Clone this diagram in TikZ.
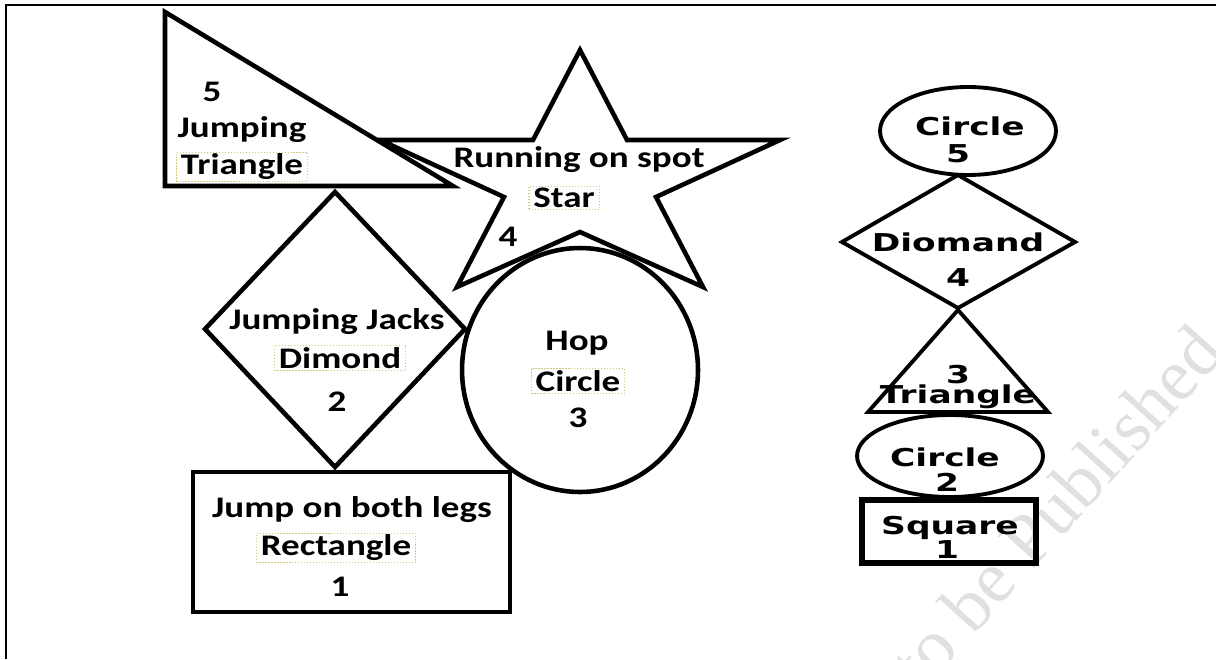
\documentclass[tikz,border=0pt]{standalone}
\usepackage{fontspec}
\newfontfamily\lblfont[FakeStretch=1.24]{Carlito}
\newfontfamily\colfont[FakeStretch=1.4]{DejaVu Sans}
\newfontfamily\wmfont{Liberation Serif}
\definecolor{tagyellow}{RGB}{212, 200, 120}
\definecolor{wmgray}{RGB}{224, 224, 224}
\usetikzlibrary{positioning}

\begin{document}
\begin{tikzpicture}[x=0.02cm, y=-0.02cm,
  shp/.style={line width=2.6pt, line join=miter},
  colshp/.style={line width=2.2pt, line join=miter},
  lbl/.style={font=\lblfont\bfseries\fontsize{17}{20}\selectfont, inner sep=0pt},
  tag/.style={lbl, draw=tagyellow, densely dotted, line width=0.7pt, inner xsep=2.5pt, inner ysep=1pt},
  collbl/.style={font=\colfont\bfseries\fontsize{14}{16}\selectfont, inner sep=0pt}]
  \useasboundingbox (0,0) rectangle (1216,659);

  % watermark
  \node[wmgray, font=\wmfont\fontsize{42}{42}\selectfont, rotate=48, anchor=base east, inner sep=0pt] (wm) at (1227,354) {Not to be Published};

  % frame
  \draw[line width=1.7pt] (6,659) -- (6,5) -- (1216,5);

  % Triangle: Jumping
  \draw[shp] (165,12) -- (165,186) -- (453,186) -- cycle;
  \node[lbl] (tri5) at (212,92) {5};
  \node[lbl] (trijump) at (242,130) {Jumping};
  \node[tag] (trinm) at (242,167) {Triangle};

  % Star: Running on spot
  \draw[shp] (580,50) -- (627,140) -- (780,140) -- (656,197) -- (703,287)
    -- (580,232) -- (457,287) -- (504,197) -- (380,140) -- (533,140) -- cycle;
  \node[lbl] (runspot) at (579,160) {Running on spot};
  \node[tag] (starnm) at (564,198) {Star};
  \node[lbl] (star4) at (508,237) {4};

  % Diamond: Jumping Jacks
  \draw[shp] (335,192) -- (465,329) -- (335,467) -- (205,329) -- cycle;
  \node[lbl] (jjacks) at (337,322) {Jumping Jacks};
  \node[tag] (dimnm) at (340,358) {Dimond};
  \node[lbl] (dim2) at (337,402) {2};

  % Circle: Hop
  \draw[shp] (580,370) ellipse [x radius=2.36cm, y radius=2.44cm];
  \node[lbl] (hop) at (577,343) {Hop};
  \node[tag] (hopnm) at (578,381) {Circle};
  \node[lbl] (hop3) at (578,418) {3};

  % Rectangle: Jump on both legs
  \draw[shp] (193,472) rectangle (510,612);
  \node[lbl] (jboth) at (352,510) {Jump on both legs};
  \node[tag] (rectnm) at (336,548) {Rectangle};
  \node[lbl] (rect1) at (340,587) {1};

  % right column, 5 down to 1
  \draw[colshp] (968,131) ellipse [x radius=1.76cm, y radius=0.88cm];
  \node[collbl] (circa) at (970,126) {Circle};
  \node[collbl] (circa5) at (958,154) {5};

  \draw[colshp] (958,175) -- (1075,242) -- (958,308) -- (842,242) -- cycle;
  \node[collbl] (diom) at (958,242) {Diomand};
  \node[collbl] (diom4) at (958,278) {4};

  \draw[colshp] (958,310) -- (1048,412) -- (868,412) -- cycle;
  \node[collbl] (trib3) at (958,375) {3};
  \node[collbl] (trib) at (958,397) {Triangle};

  \draw[colshp] (950,456) ellipse [x radius=1.86cm, y radius=0.82cm];
  \node[collbl] (circb) at (945,457) {Circle};
  \node[collbl] (circb2) at (947,482) {2};

  \draw[line width=3pt] (862,500) rectangle (1036,563);
  \node[collbl] (sq) at (950,528) {Square};
  \node[collbl] (sq1) at (947,550) {1};
\end{tikzpicture}
\end{document}
